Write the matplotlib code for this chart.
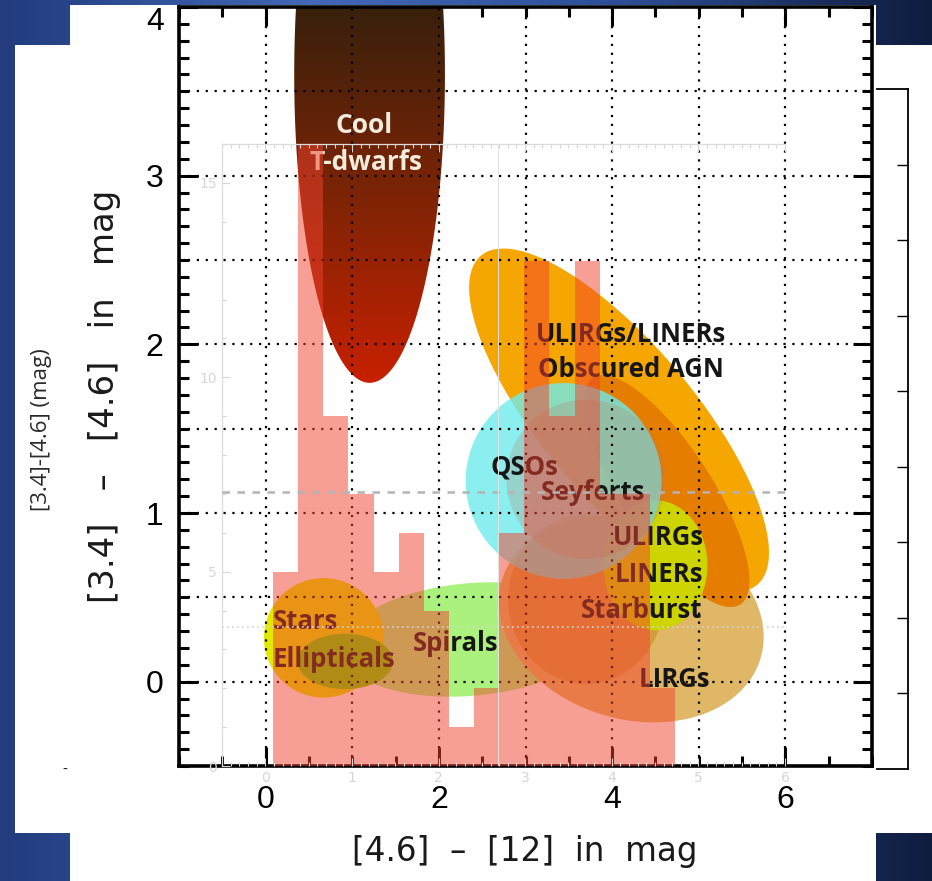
import numpy as np
import matplotlib
matplotlib.use("Agg")
import matplotlib.pyplot as plt
from matplotlib.patches import Polygon, Rectangle
from matplotlib.colors import LinearSegmentedColormap
from matplotlib.ticker import MultipleLocator

W, H = 932, 881

# histogram of the comparison sample, [4.6]-[12] bins
bin_edges = [0.09, 0.38, 0.67, 0.96, 1.25, 1.54, 1.83, 2.12, 2.41, 2.70,
             2.99, 3.28, 3.57, 3.86, 4.15, 4.44, 4.73]
bin_counts = [5, 16, 9, 7, 5, 6, 4, 1, 2, 6, 13, 9, 13, 7, 7, 2]

# source-class regions (centre in mag, semi-axes in x-mag units, tilt in degrees)
region_names = ["Spirals", "LIRGs", "Starburst", "Stars", "Ellipticals",
                "ObscuredAGN", "ULIRGs", "LINERs", "QSOs", "Seyferts"]
region_cx = [2.37, 4.22, 3.70, 0.67, 0.92, 4.08, 4.63, 4.50, 3.44, 3.70]
region_cy = [0.25, 0.37, 0.49, 0.26, 0.12, 1.55, 1.13, 0.69, 1.19, 1.20]
region_rx = [1.50, 1.56, 0.90, 0.69, 0.55, 2.48, 1.56, 0.60, 1.13, 0.92]
region_ry = [0.65, 1.15, 0.98, 0.69, 0.32, 0.88, 0.52, 0.75, 1.13, 0.92]
region_tilt = [5, -17, 0, 0, 0, -50, -57, 0, 0, 0]

# cool T-dwarf locus
dwarf_cx, dwarf_cy, dwarf_rx, dwarf_ry = 1.2, 3.6, 0.87, 3.56

label_text = ["ULIRGs/LINERs", "Obscured AGN", "QSOs", "Seyferts", "ULIRGs",
              "LINERs", "Starburst", "LIRGs", "Stars", "Ellipticals", "Spirals"]
label_x = [4.22, 4.22, 2.99, 3.78, 4.53, 4.54, 4.34, 4.72, 0.46, 0.79, 2.19]
label_y = [2.06, 1.85, 1.27, 1.12, 0.855, 0.635, 0.42, 0.01, 0.355, 0.13, 0.225]

region_style = {
    "Spirals": ((170, 242, 125), 1.0),
    "LIRGs": ((224, 183, 102), 1.0),
    "Starburst": ((205, 135, 30), 0.55),
    "Stars": ((226, 232, 0), 1.0),
    "Ellipticals": ((110, 215, 0), 1.0),
    "ObscuredAGN": ((246, 166, 0), 1.0),
    "ULIRGs": ((228, 125, 0), 1.0),
    "LINERs": ((205, 212, 0), 1.0),
    "QSOs": ((110, 236, 236), 0.8),
    "Seyferts": ((190, 120, 100), 0.25),
}


def rgb(c):
    return tuple(v / 255 for v in c)


def box(x0, y0, x1, y1):
    return [x0 / W, 1 - y1 / H, (x1 - x0) / W, (y1 - y0) / H]


fig = plt.figure(figsize=(W / 100, H / 100), dpi=100)

# slide background
bg = fig.add_axes([0, 0, 1, 1])
bg.set_xlim(0, W)
bg.set_ylim(H, 0)
bg.axis("off")
slide = LinearSegmentedColormap.from_list(
    "slide", [rgb((34, 60, 125)), rgb((66, 104, 182)), rgb((45, 78, 150)), rgb((14, 28, 62))])
bg.imshow(np.linspace(0, 1, 256)[None, :], cmap=slide, extent=[0, W, H, 0], aspect="auto")
bg.add_patch(Rectangle((70, 5), 806, 876, color="white", lw=0))
bg.add_patch(Rectangle((15, 45), 917, 788, color="white", lw=0))

# main colour-colour axes
ax = fig.add_axes(box(179, 7, 872, 766))
ax.set_facecolor("none")
xmin, xmax, ymin, ymax = -1, 7, -0.5, 4
k = ((872 - 179) / (xmax - xmin)) / ((766 - 7) / (ymax - ymin))


def ellipse_xy(cx, cy, rx, ry, tilt):
    t = np.linspace(0, 2 * np.pi, 240)
    a = np.radians(tilt)
    u, v = rx * np.cos(t), ry * np.sin(t)
    x = cx + u * np.cos(a) - v * np.sin(a)
    y = cy + (u * np.sin(a) + v * np.cos(a)) * k
    return np.column_stack([x, y])


for i, name in enumerate(region_names):
    col, alpha = region_style[name]
    ax.add_patch(Polygon(ellipse_xy(region_cx[i], region_cy[i], region_rx[i],
                                    region_ry[i], region_tilt[i]),
                         closed=True, facecolor=rgb(col), alpha=alpha, lw=0, zorder=2))

# T-dwarfs: dark brown to red shading
dv = ellipse_xy(dwarf_cx, dwarf_cy, dwarf_rx, dwarf_ry, 0)
clip = Polygon(dv, closed=True, facecolor="none", edgecolor="none")
ax.add_patch(clip)
dwarf_cmap = LinearSegmentedColormap.from_list(
    "dwarf", [rgb((200, 32, 0)), rgb((125, 36, 6)), rgb((56, 32, 12))])
im = ax.imshow(np.linspace(0, 1, 256)[:, None], cmap=dwarf_cmap, origin="lower",
               extent=[dwarf_cx - dwarf_rx, dwarf_cx + dwarf_rx, dv[:, 1].min(), ymax],
               aspect="auto", zorder=2)
im.set_clip_path(clip)

ax.set_xlim(xmin, xmax)
ax.set_ylim(ymin, ymax)

# dotted grid
for gx in range(0, 7):
    ax.axvline(gx, color="k", lw=1.6, ls=(0, (1, 3)), zorder=4)
for gy in np.arange(0, 4, 0.5):
    ax.axhline(gy, color="k", lw=1.6, ls=(0, (1, 3)), zorder=4)

for i, txt in enumerate(label_text):
    ax.text(label_x[i], label_y[i], txt, ha="center", va="center", fontsize=18.5,
            family="Open Sans", fontweight="bold", color="#161616", zorder=5)
ax.text(1.14, 3.30, "Cool", ha="center", va="center", fontsize=19,
        family="Open Sans", fontweight="bold", color="#f3ebdb", zorder=5)
ax.text(1.155, 3.08, "T-dwarfs", ha="center", va="center", fontsize=19,
        family="Open Sans", fontweight="bold", color="#f3ebdb", zorder=5)

ax.xaxis.set_major_locator(MultipleLocator(2))
ax.xaxis.set_minor_locator(MultipleLocator(0.5))
ax.set_yticks([0, 1, 2, 3, 4])
ax.yaxis.set_minor_locator(MultipleLocator(0.1))
ax.tick_params(which="both", direction="in", top=True, right=True, width=2.2, color="k")
ax.tick_params(which="major", length=14)
ax.tick_params(which="minor", length=7)
ax.tick_params(axis="x", labelsize=23, pad=14)
ax.tick_params(axis="y", labelsize=23, pad=11)
for lab in ax.get_xticklabels() + ax.get_yticklabels():
    lab.set_family("Liberation Sans")
for tick in ax.yaxis.get_major_ticks()[-1:]:
    tick.label1.set_verticalalignment("top")
for sp in ax.spines.values():
    sp.set_linewidth(2.6)

# histogram panel laid over the diagram
ins = fig.add_axes(box(222, 144, 785, 766))
ins.set_facecolor("none")
ins.stairs(bin_counts, bin_edges, fill=True, color=rgb((243, 65, 45)), alpha=0.5, lw=0)
ins.set_xlim(-0.5, 6.0)
ins.set_ylim(0, 16)
ins.axhline(7.05, color="#b4b4b4", lw=1.8, ls=(0, (3, 3)), zorder=3)
ins.axhline(3.57, color="#d4d4d4", lw=1.2, ls=(0, (1, 2)), zorder=3)
ins.axvline(2.69, color="#e2e2e2", lw=0.7, zorder=3)
ins.xaxis.set_major_locator(MultipleLocator(1))
ins.xaxis.set_minor_locator(MultipleLocator(0.1))
ins.yaxis.set_major_locator(MultipleLocator(5))
ins.yaxis.set_minor_locator(MultipleLocator(1))
ins.tick_params(which="both", direction="in", top=True, right=False, colors="#d6d6d6",
                labelsize=10, width=0.8)
ins.tick_params(which="major", length=6)
ins.tick_params(which="minor", length=3)
for sp in ins.spines.values():
    sp.set_color("#dcdcdc")
    sp.set_linewidth(0.9)
ins.spines["bottom"].set_visible(False)
ins.spines["right"].set_visible(False)

# bracket on the right
br = fig.add_axes(box(877, 89, 908, 769))
br.set_facecolor("none")
br.spines["left"].set_visible(False)
for sp in ("top", "right", "bottom"):
    br.spines[sp].set_linewidth(1.3)
br.set_xticks([])
br.set_ylim(0, 9)
br.set_yticks(range(1, 9))
br.yaxis.tick_right()
br.tick_params(axis="y", direction="in", length=8, width=1, labelright=False)

fig.text(525 / W, 1 - 852 / H, "[4.6]  \u2013  [12]  in  mag", ha="center", va="center",
         fontsize=23.5, family="DejaVu Sans", color="#1a1a1a")
fig.text(105 / W, 1 - 396 / H, "[3.4]   \u2013   [4.6]   in   mag", ha="center", va="center",
         rotation=90, fontsize=24.5, family="DejaVu Sans", color="#1a1a1a")
fig.text(42 / W, 1 - 430 / H, "[3.4]-[4.6] (mag)", ha="center", va="center", rotation=90,
         fontsize=16, family="Open Sans", color="#2a2a2a")
fig.text(65 / W, 1 - 770 / H, "-", ha="center", va="center", fontsize=10, color="#222222")

fig.savefig("out.png", dpi=100)
